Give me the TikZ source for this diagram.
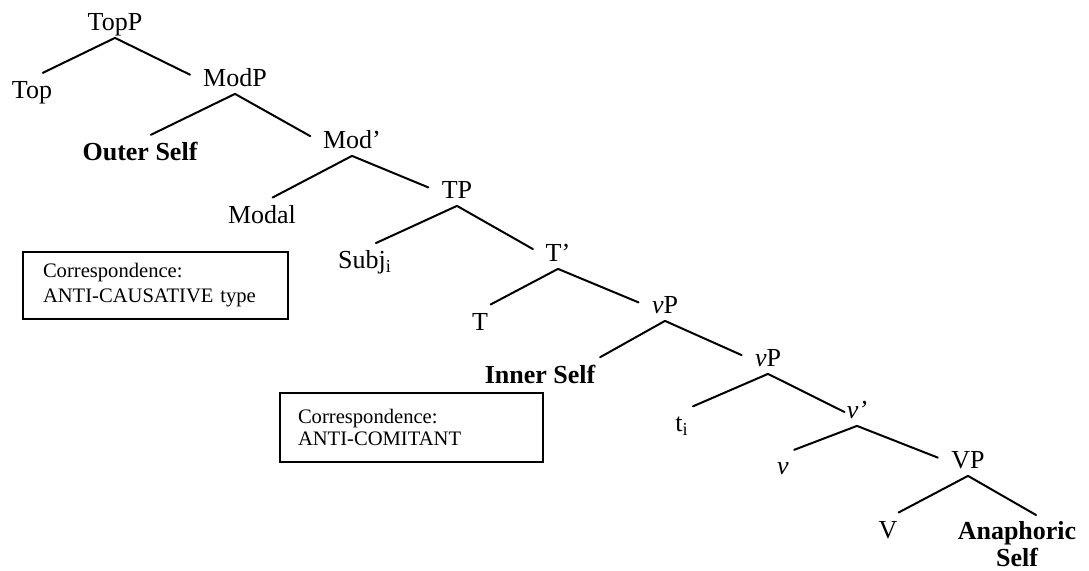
\documentclass[tikz,border=0pt]{standalone}
\usepackage{fontspec}
\setmainfont{Liberation Serif}
\usetikzlibrary{positioning}
\tikzstyle{tLabel}=[inner sep=1pt, text height=9pt, text depth=2.5pt,
font=\fontsize{13}{15}\selectfont]
\tikzstyle{tSelf}=[tLabel, font=\fontsize{13}{15}\selectfont\bfseries]
\tikzstyle{tBox}=[rectangle, draw, line width=0.9pt, align=left, inner ysep=0pt]
\tikzstyle{tBranch}=[line width=1pt, line cap=round]
\tikzstyle{toLeft}=[tBranch, shorten >=6pt]
\tikzstyle{toRight}=[tBranch, shorten >=6pt]

\begin{document}
\begin{tikzpicture}[x=0.5pt, y=-0.5pt]
      \useasboundingbox (0,0) rectangle (1089,571);
      % the tree
      \node(topP) [tLabel] at (115,24) {TopP};
      \node(top) [tLabel] at (32,92) {Top};
      \node(modP) [tLabel] at (235,80) {ModP};
      \node(outerSelf) [tSelf] at (140,154) {Outer Self};
      \node(modBar) [tLabel] at (352,142) {Mod’};
      \node(modal) [tLabel] at (262,217) {Modal};
      \node(tP) [tLabel] at (457,192) {TP};
      \node(subj) [tLabel] at (365,262) {Subj\textsubscript{i}};
      \node(tBar) [tLabel] at (558,255) {T’};
      \node(tHead) [tLabel] at (480,324) {T};
      \node(vP) [tLabel] at (665,307) {\textit{v}P};
      \node(innerSelf) [tSelf] at (540,377) {Inner Self};
      \node(vPlow) [tLabel] at (768,360) {\textit{v}P};
      \node(trace) [tLabel] at (682,425) {t\textsubscript{i}};
      \node(vBar) [tLabel] at (857,412) {\textit{v’}};
      \node(vHead) [tLabel] at (783,468) {\textit{v}};
      \node(bigVP) [tLabel] at (968,462) {VP};
      \node(verb) [tLabel] at (888,532) {V};
      \node(anaSelf) [tSelf, text height=, text depth=, align=center,
        font=\fontsize{13}{13.5}\selectfont\bfseries,
        anchor=north] at (1017,519) {Anaphoric\\Self};
      \draw [toLeft] (topP.south) -- (top.north);
      \draw [toRight] (topP.south) -- (modP.west);
      \draw [toLeft] (modP.south) -- (outerSelf.north);
      \draw [toRight] (modP.south) -- (modBar.west);
      \draw [toLeft] (modBar.south) -- (modal.north);
      \draw [toRight] (modBar.south) -- (tP.west);
      \draw [toLeft] (tP.south) -- (subj.north);
      \draw [toRight] (tP.south) -- (tBar.west);
      \draw [toLeft] (tBar.south) -- (tHead.north);
      \draw [toRight] (tBar.south) -- (vP.west);
      \draw [toLeft] (vP.south) -- ([xshift=-4pt]innerSelf.north east);
      \draw [toRight] (vP.south) -- (vPlow.west);
      \draw [toLeft] (vPlow.south) -- (trace.north);
      \draw [tBranch] (vPlow.south) -- (vBar.west);
      \draw [toLeft] (vBar.south) -- (vHead.north);
      \draw [toRight] (vBar.south) -- (bigVP.west);
      \draw [toLeft] (bigVP.south) -- (verb.north);
      \draw [tBranch, shorten >=4pt] (bigVP.south) -- ([xshift=13pt]anaSelf.north);
      % correspondence boxes
      \node(corrCaus) [tBox, minimum width=132.5pt, minimum height=33.5pt,
        text width=112.5pt, inner xsep=10pt,
        font=\fontsize{10.3}{12.5}\selectfont] at (155.5,285.5)
        {Correspondence:\\ANTI-CAUSATIVE type};
      \node(corrCom) [tBox, minimum width=131.5pt, minimum height=34.5pt,
        text width=113.5pt, inner xsep=9pt,
        font=\fontsize{10.3}{10.8}\selectfont] at (411.5,427.5)
        {Correspondence:\\ANTI-COMITANT};
    \end{tikzpicture}
\end{document}
